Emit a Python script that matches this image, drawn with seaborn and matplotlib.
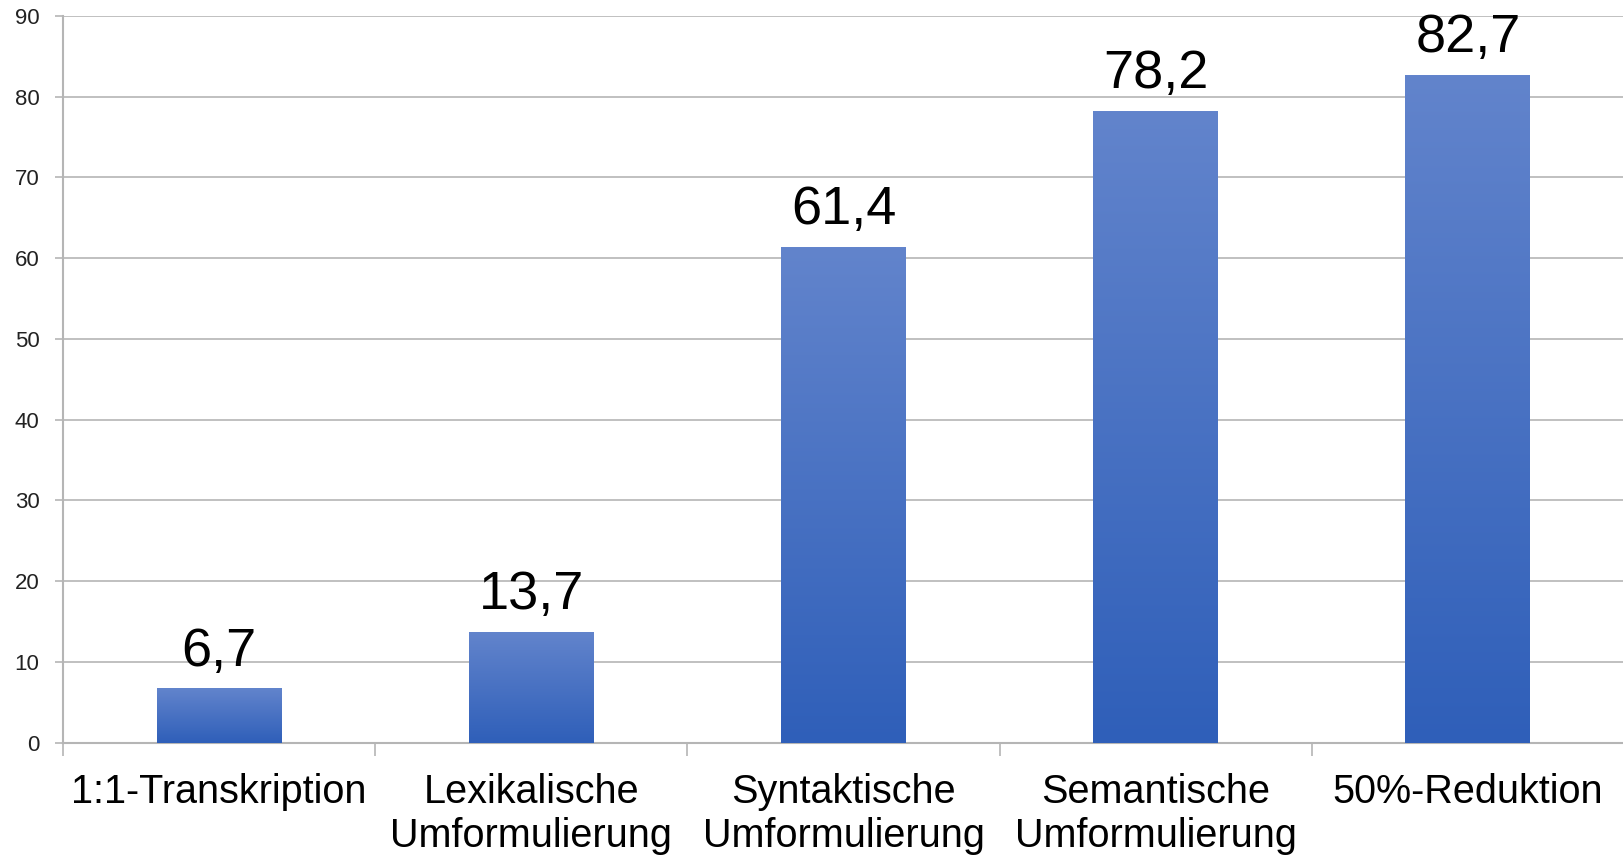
import numpy as np
import pandas as pd
import seaborn as sns
import matplotlib.pyplot as plt
from matplotlib.colors import LinearSegmentedColormap

categories = [
    "1:1-Transkription",
    "Lexikalische\nUmformulierung",
    "Syntaktische\nUmformulierung",
    "Semantische\nUmformulierung",
    "50%-Reduktion",
]
values = [6.7, 13.7, 61.4, 78.2, 82.7]
value_labels = ["6,7", "13,7", "61,4", "78,2", "82,7"]
yticks = [0, 10, 20, 30, 40, 50, 60, 70, 80, 90]

df = pd.DataFrame({"category": categories, "value": values})

sns.set_theme(style="white")
plt.rcParams["font.family"] = ["Liberation Sans", "DejaVu Sans"]

grid_col = "#b5b5b5"

fig = plt.figure(figsize=(16.24, 8.55), dpi=100)
ax = fig.add_axes([63 / 1624, 1 - 742.7 / 855, (1624 - 63) / 1624, (742.7 - 16) / 855])

sns.barplot(data=df, x="category", y="value", width=0.4, color="#4a72c4",
            ax=ax, zorder=2)

# vertical gradient per bar: dark at the bottom, lighter at the top
cmap = LinearSegmentedColormap.from_list("bar", ["#2f5fb9", "#6284cc"])
grad = np.linspace(0, 1, 256).reshape(-1, 1)
for p, lab in zip(ax.patches, value_labels):
    x0, w, h = p.get_x(), p.get_width(), p.get_height()
    ax.imshow(grad, extent=[x0, x0 + w, 0, h], origin="lower", aspect="auto",
              cmap=cmap, zorder=3)
    p.set_visible(False)
    ax.annotate(lab, (x0 + w / 2, h), xytext=(0, 16.5), textcoords="offset points",
                ha="center", va="baseline", fontsize=39, color="black")

ax.set_xlim(-0.5, 4.5)
ax.set_ylim(0, 90)
ax.set_yticks(yticks)
ax.set_yticklabels([str(t) for t in yticks])
ax.set_xlabel("")
ax.set_ylabel("")

ax.yaxis.grid(True, color=grid_col, linewidth=1.2, zorder=0)
ax.set_axisbelow(True)

for s in ["top", "right"]:
    ax.spines[s].set_visible(False)
for s in ["left", "bottom"]:
    ax.spines[s].set_color(grid_col)
    ax.spines[s].set_linewidth(1.5)

ax.tick_params(axis="y", which="major", direction="out", length=6, width=1.2,
               color=grid_col, labelsize=16, labelcolor="#222222", pad=11, left=True)
ax.tick_params(axis="x", which="major", length=0, pad=22, labelsize=28.5,
               labelcolor="black")
ax.set_xticks(np.arange(-0.5, 5.0, 1.0), minor=True)
ax.tick_params(axis="x", which="minor", direction="out", length=9, width=1.2,
               color=grid_col, bottom=True)

plt.savefig("out.png", dpi=100)
